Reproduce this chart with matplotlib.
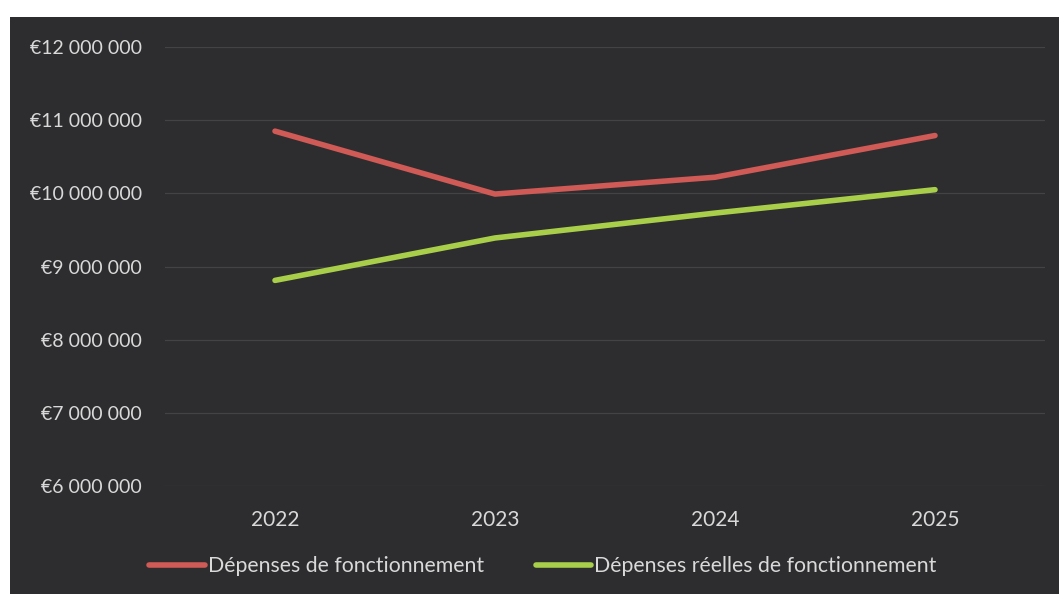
import matplotlib
matplotlib.use("Agg")
import matplotlib.pyplot as plt
from matplotlib.ticker import FuncFormatter, MultipleLocator

# annual operating expenses, euros
years = ["2022", "2023", "2024", "2025"]
depenses_fonct = [10850000, 9990000, 10220000, 10790000]
depenses_reelles = [8810000, 9390000, 9730000, 10050000]

bg = "#2d2d30"
txt = "#d9d9d9"
red = "#d05a55"
green = "#a9cf4a"

plt.rcParams["font.family"] = ["Lato", "DejaVu Sans"]

fig = plt.figure(figsize=(10.59, 5.94), dpi=100, facecolor="white")

# dark chart area (white strip left and top)
back = fig.add_axes([10 / 1059, 0, 1 - 10 / 1059, 1 - 17 / 594])
back.set_facecolor(bg)
back.set_xticks([])
back.set_yticks([])
for s in back.spines.values():
    s.set_visible(False)

ax = fig.add_axes([165 / 1059, 1 - 486 / 594, 880 / 1059, 439 / 594])
ax.set_facecolor("none")

x = range(len(years))
ax.plot(x, depenses_fonct, color=red, lw=4, solid_capstyle="round",
        solid_joinstyle="round", label="Dépenses de fonctionnement")
ax.plot(x, depenses_reelles, color=green, lw=4, solid_capstyle="round",
        solid_joinstyle="round", label="Dépenses réelles de fonctionnement")

ax.set_xlim(-0.5, 3.5)
ax.set_ylim(6000000, 12000000)
ax.yaxis.set_major_locator(MultipleLocator(1000000))

def euro(v, pos):
    return "€" + f"{int(v):,}".replace(",", " ")

ax.yaxis.set_major_formatter(FuncFormatter(euro))
ax.set_xticks(list(x))
ax.set_xticklabels(years)

ax.grid(axis="y", color="#434346", lw=0.9)
ax.set_axisbelow(True)
for s in ax.spines.values():
    s.set_visible(False)
ax.tick_params(axis="y", length=0, pad=16.5, labelcolor=txt, labelsize=14)
ax.tick_params(axis="x", length=0, pad=17, labelcolor=txt, labelsize=15)

leg = fig.legend(loc="center", bbox_to_anchor=(543 / 1059, 1 - 566 / 594), ncol=2,
                 frameon=False, fontsize=15.3, handlelength=2.6, handletextpad=0.15,
                 columnspacing=2.45, labelcolor=txt)

fig.savefig("out.png", dpi=100, facecolor="white")
